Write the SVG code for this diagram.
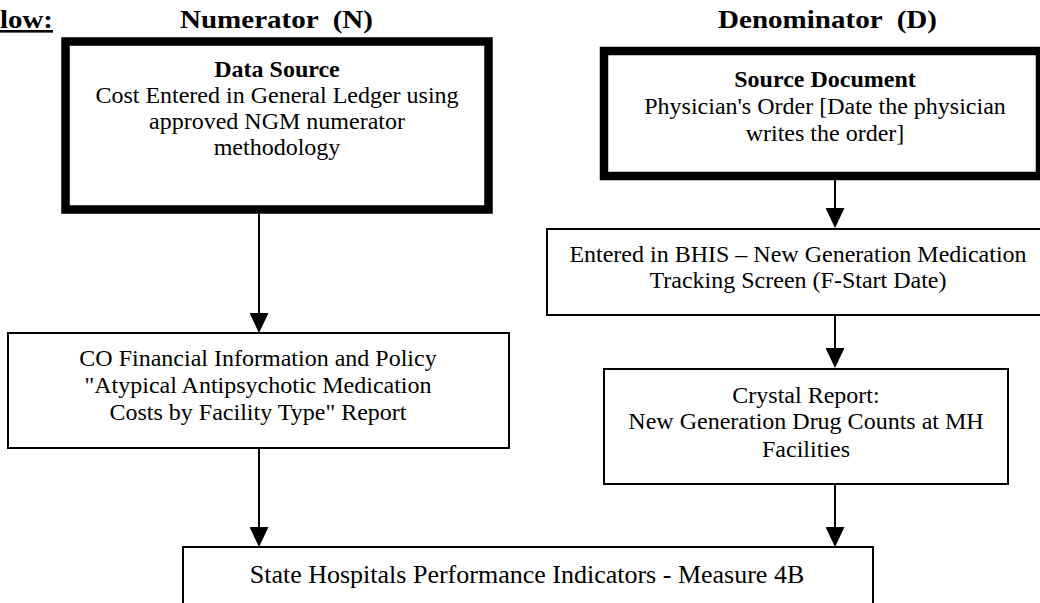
<svg xmlns="http://www.w3.org/2000/svg" width="1040" height="603" viewBox="0 0 1040 603">
<style>
text{font-family:"Liberation Serif","Times New Roman",serif;fill:#000}
.t{font-size:24px;text-anchor:middle}
.big{font-size:26px;text-anchor:middle}
.h{font-size:26px;font-weight:bold;white-space:pre}
.b{font-weight:bold}
.box{fill:#fff;stroke:#000;stroke-width:2}
.thick{fill:#fff;stroke:#000;stroke-width:8.5}
.conn line{stroke:#000;stroke-width:2;marker-end:url(#ah)}
</style>
<defs>
<marker id="ah" markerUnits="userSpaceOnUse" viewBox="0 0 20 19" markerWidth="20" markerHeight="19" refX="10" refY="9.5" orient="auto">
<path d="M0,0 L20,9.5 L0,19 z" fill="#000"/>
</marker>
</defs>
<rect width="1040" height="603" fill="#fff"/>
<g id="headers">
<text class="h" x="0" y="28" textLength="53" lengthAdjust="spacingAndGlyphs" text-decoration="underline">low:</text>
<text class="h" x="180" y="28" textLength="193" lengthAdjust="spacingAndGlyphs">Numerator  (N)</text>
<text class="h" x="718" y="28" textLength="219" lengthAdjust="spacingAndGlyphs">Denominator  (D)</text>
</g>
<g id="n-data-source">
<rect class="thick" x="65.5" y="41.5" width="423" height="168"/>
<text class="t b" x="277" y="77">Data Source</text>
<text class="t" x="277" y="103">Cost Entered in General Ledger using</text>
<text class="t" x="277" y="129">approved NGM numerator</text>
<text class="t" x="277" y="155">methodology</text>
</g>
<g id="d-source-document">
<rect class="thick" x="604" y="51" width="436" height="125"/>
<text class="t b" x="825" y="87">Source Document</text>
<text class="t" x="825" y="114">Physician's Order [Date the physician</text>
<text class="t" x="825" y="141">writes the order]</text>
</g>
<g id="d-bhis">
<rect class="box" x="547" y="229" width="510" height="86"/>
<text class="t" x="798" y="262">Entered in BHIS – New Generation Medication</text>
<text class="t" x="798" y="288">Tracking Screen (F-Start Date)</text>
</g>
<g id="n-co-report">
<rect class="box" x="8" y="333" width="501" height="115"/>
<text class="t" x="258" y="366">CO Financial Information and Policy</text>
<text class="t" x="258" y="393">"Atypical Antipsychotic Medication</text>
<text class="t" x="258" y="420">Costs by Facility Type" Report</text>
</g>
<g id="d-crystal">
<rect class="box" x="604" y="369" width="404" height="115"/>
<text class="t" x="806" y="403">Crystal Report:</text>
<text class="t" x="806" y="429">New Generation Drug Counts at MH</text>
<text class="t" x="806" y="457">Facilities</text>
</g>
<g id="measure">
<rect class="box" x="183" y="547" width="690" height="80"/>
<text class="big" x="527" y="583">State Hospitals Performance Indicators - Measure 4B</text>
</g>
<g class="conn" id="connectors">
<line x1="259" y1="214" x2="259" y2="323"/>
<line x1="259" y1="448" x2="259" y2="537"/>
<line x1="835" y1="180" x2="835" y2="218"/>
<line x1="835" y1="315" x2="835" y2="358"/>
<line x1="835" y1="484" x2="835" y2="537"/>
</g>
</svg>
